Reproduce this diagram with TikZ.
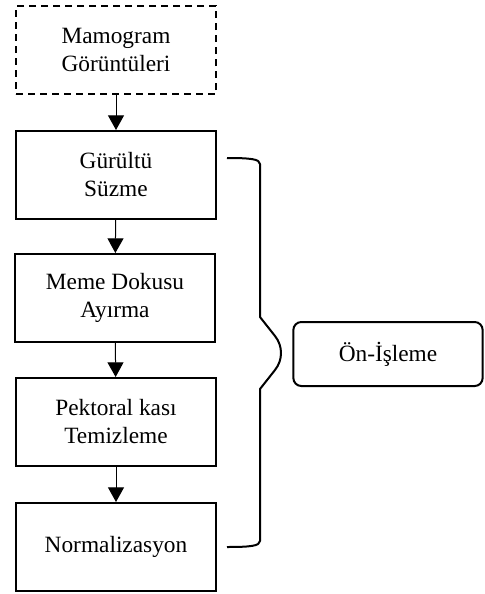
\documentclass[tikz,border=0pt]{standalone}
\usepackage{fontspec}
\setmainfont{Liberation Serif}
\usepackage{tikz}
\usetikzlibrary{arrows.meta, positioning}

\begin{document}
\begin{tikzpicture}[
    x=0.75pt, y=-0.75pt,
    stage/.style={draw, line width=1.5pt, minimum width=150pt, minimum height=66pt,
                  inner sep=0pt, align=center, font=\fontsize{17.5}{21}\selectfont},
    source/.style={stage, dashed, dash pattern=on 5.5pt off 3.5pt},
    group/.style={stage, rounded corners=6pt, minimum width=142pt, minimum height=48pt},
    flow/.style={line width=0.75pt, -{Triangle[length=11pt, width=12pt]}}
]
    \useasboundingbox (0,0) rectangle (485,594);

    % Input
    \node[source] (images) at (116,50) {Mamogram\\Görüntüleri};

    % Pre-processing steps
    \node[stage] (denoise) at (116,175) {Gürültü\\Süzme};
    \node[stage] (tissue) at (115,298) {Meme Dokusu\\Ayırma};
    \node[stage] (muscle) at (116,422) {Pektoral kası\\Temizleme};
    \node[stage] (norm) at (116,547) {Normalizasyon};

    % Group label
    \node[group] (prep) at (388,354) {Ön-İşleme};

    % Arrows
    \draw[flow] (images) -- (denoise);
    \draw[flow] (denoise) -- (tissue);
    \draw[flow] (tissue) -- (muscle);
    \draw[flow] (muscle) -- (norm);

    % Brace
    \draw[line width=1.5pt, line join=round]
        (227,158) .. controls (250,158) and (260,159) .. (260,164)
        -- (260,317) -- (275,336)
        .. controls (283,346) and (283,360) .. (275,370)
        -- (260,389) -- (260,541)
        .. controls (260,546) and (250,547) .. (227,547);
\end{tikzpicture}
\end{document}
